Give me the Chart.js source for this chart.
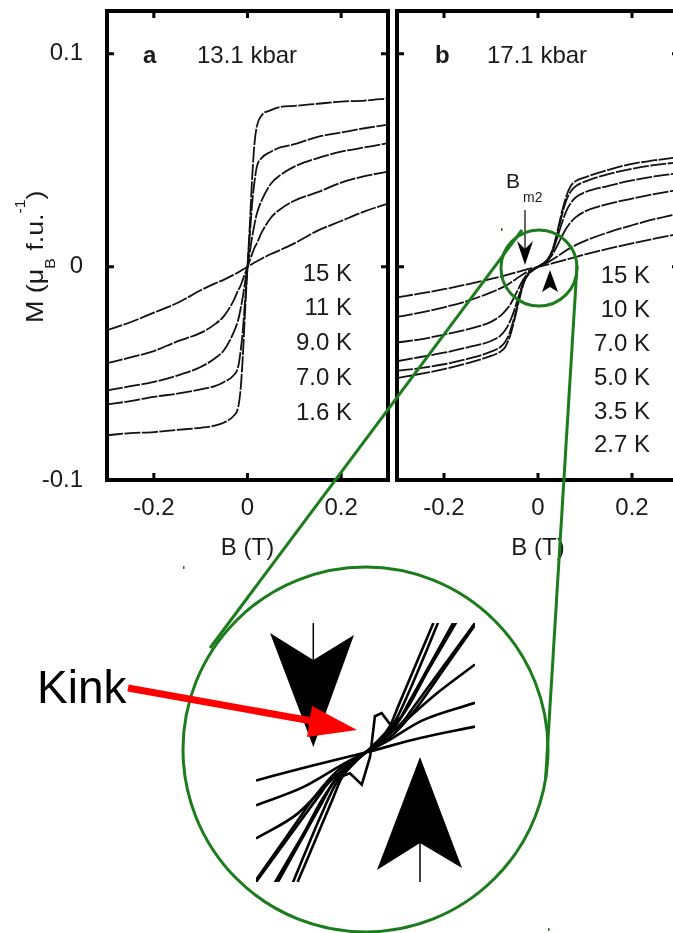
<!DOCTYPE html>
<html>
<head>
<meta charset="utf-8">
<script src="https://cdn.jsdelivr.net/npm/chart.js@4.4.1/dist/chart.umd.min.js"></script>
<style>
  html, body { margin: 0; padding: 0; background: #fff; overflow: hidden; }
  body { width: 673px; height: 933px; position: relative; }
  canvas, svg { position: absolute; }
</style>
</head>
<body>
<canvas id="panelA" width="392" height="560" style="left:0;top:0"></canvas>
<canvas id="panelB" width="298" height="560" style="left:392px;top:0"></canvas>
<canvas id="inset" width="219" height="259" style="left:256px;top:623px"></canvas>

<svg width="673" height="933" style="left:0;top:0" font-family="'Liberation Sans', Arial, sans-serif">
  <!-- inset arrows -->
  <line x1="313.3" y1="623" x2="313.3" y2="662" stroke="#000" stroke-width="1.5"/>
  <polygon points="270,633 313.3,660 354,635 313.3,747" fill="#000"/>
  <polygon points="420,757 377,870 420,843 462,868" fill="#000"/>
  <line x1="420" y1="843" x2="420" y2="882" stroke="#000" stroke-width="1.5"/>
  <!-- B_m2 marker in panel b -->
  <line x1="525" y1="210" x2="525" y2="250" stroke="#000" stroke-width="1.2"/>
  <polygon points="517,241 525,249 533,241 525,265" fill="#000"/>
  <polygon points="550,270 542,292 550,287 558,292" fill="#000"/>
  <text x="506" y="188" font-size="21" fill="#1a1a1a">B</text>
  <text x="523" y="202" font-size="14" fill="#1a1a1a">m2</text>
  <!-- zoom circles and connectors -->
  <g fill="none" stroke="#1c7c1c" stroke-width="3">
    <circle cx="539" cy="268" r="38"/>
    <circle cx="365.5" cy="749.5" r="182.5"/>
    <line x1="522" y1="230" x2="210" y2="648"/>
    <line x1="577" y1="266" x2="545.5" y2="780"/>
  </g>
  <g fill="#1c7c1c">
    <rect x="501" y="228" width="1.5" height="3"/>
    <rect x="183" y="566" width="1.5" height="3"/>
    <rect x="548" y="928" width="1.5" height="3"/>
  </g>
  <!-- kink pointer -->
  <line x1="128" y1="688" x2="312" y2="721" stroke="#f00" stroke-width="7"/>
  <polygon points="357,730 312,706 307,737" fill="#f00"/>
  <text x="37" y="703" font-size="46" fill="#000">Kink</text>
</svg>

<script>
// ── Data ──────────────────────────────────────────────────────────────────
const xTickVals = [-0.2, 0, 0.2];
const yTickVals = [-0.1, 0, 0.1];

// panel a, 13.1 kbar
const fieldA = [-0.3, -0.25, -0.2, -0.15, -0.1, -0.07, -0.05, -0.03, -0.02, -0.015, -0.01, -0.005, 0,
                0.005, 0.01, 0.015, 0.02, 0.03, 0.05, 0.07, 0.1, 0.15, 0.2, 0.25, 0.3];
const tempsA = ['15 K', '11 K', '9.0 K', '7.0 K', '1.6 K'];
const mA_15K = [-0.0297, -0.026, -0.0215, -0.017, -0.011, -0.0079, -0.006, -0.0038, -0.0026, -0.002, -0.0013, -0.0007, 0,
                0.0007, 0.0013, 0.002, 0.0026, 0.0038, 0.006, 0.0079, 0.011, 0.017, 0.0215, 0.026, 0.0297];
const mA_11K = [-0.0452, -0.0425, -0.0395, -0.035, -0.031, -0.027, -0.023, -0.016, -0.011, -0.009, -0.006, -0.003, 0,
                0.003, 0.006, 0.009, 0.011, 0.016, 0.023, 0.027, 0.031, 0.035, 0.0395, 0.0425, 0.0447];
const mA_9K  = [-0.058, -0.056, -0.054, -0.051, -0.047, -0.043, -0.039, -0.031, -0.025, -0.02, -0.014, -0.007, 0,
                0.007, 0.014, 0.02, 0.025, 0.031, 0.039, 0.043, 0.047, 0.051, 0.054, 0.056, 0.058];
const mA_7K  = [-0.0645, -0.063, -0.061, -0.0595, -0.0575, -0.056, -0.054, -0.051, -0.047, -0.04, -0.03, -0.015, 0,
                0.015, 0.03, 0.04, 0.047, 0.051, 0.054, 0.056, 0.0575, 0.061, 0.063, 0.065, 0.0667];
const mA_1_6K = [-0.079, -0.078, -0.0775, -0.0765, -0.0755, -0.0745, -0.073, -0.07, -0.066, -0.058, -0.042, -0.02, 0,
                 0.02, 0.042, 0.058, 0.066, 0.071, 0.0735, 0.075, 0.0755, 0.0765, 0.0775, 0.078, 0.079];

// panel b, 17.1 kbar
const fieldB = [-0.3, -0.25, -0.2, -0.15, -0.1, -0.08, -0.07, -0.06, -0.05, -0.04, -0.03, -0.02, -0.01, 0,
                0.01, 0.02, 0.03, 0.04, 0.05, 0.06, 0.07, 0.08, 0.1, 0.15, 0.2, 0.25, 0.3];
const tempsB = ['15 K', '10 K', '7.0 K', '5.0 K', '3.5 K', '2.7 K'];
const mB_15K = [-0.0143, -0.0125, -0.0105, -0.0082, -0.0057, -0.0046, -0.004, -0.0034, -0.0028, -0.0022, -0.0016, -0.001, -0.0005, 0,
                0.0005, 0.001, 0.0016, 0.0022, 0.0028, 0.0034, 0.004, 0.0046, 0.0058, 0.0085, 0.011, 0.0133, 0.0155];
const mB_10K = [-0.0235, -0.0215, -0.019, -0.016, -0.012, -0.0101, -0.009, -0.0077, -0.0062, -0.0047, -0.0033, -0.002, -0.001, 0,
                0.001, 0.002, 0.0033, 0.0047, 0.0062, 0.0077, 0.009, 0.0102, 0.0122, 0.0162, 0.0195, 0.0225, 0.025];
const mB_7K  = [-0.0355, -0.034, -0.0318, -0.0293, -0.0258, -0.023, -0.0208, -0.018, -0.014, -0.0095, -0.0055, -0.0028, -0.0012, 0,
                0.0012, 0.0028, 0.0055, 0.0095, 0.014, 0.018, 0.021, 0.0232, 0.026, 0.0295, 0.032, 0.0342, 0.0362];
const mB_5K  = [-0.0443, -0.0423, -0.0403, -0.0378, -0.0348, -0.0323, -0.0298, -0.0258, -0.02, -0.013, -0.0065, -0.003, -0.0013, 0,
                0.0013, 0.003, 0.0065, 0.013, 0.02, 0.026, 0.03, 0.0325, 0.035, 0.038, 0.0405, 0.0425, 0.044];
const mB_3_5K = [-0.0488, -0.0475, -0.0457, -0.0432, -0.0398, -0.0376, -0.0353, -0.0308, -0.0233, -0.0145, -0.007, -0.0032, -0.0014, 0,
                 0.0014, 0.0032, 0.007, 0.0145, 0.0235, 0.031, 0.0355, 0.0378, 0.04, 0.0435, 0.046, 0.0478, 0.049];
const mB_2_7K = [-0.0522, -0.0502, -0.048, -0.0452, -0.0418, -0.0398, -0.0377, -0.0328, -0.0248, -0.0155, -0.0075, -0.0034, -0.0015, 0,
                 0.0015, 0.0034, 0.0075, 0.0155, 0.025, 0.033, 0.038, 0.0402, 0.042, 0.0455, 0.0483, 0.05, 0.0515];

// zoomed view around B = 0 (panel b)
const zB_15K = [-0.05, -0.025, 0, 0.025, 0.05];
const zM_15K = [-0.0027, -0.0013, 0, 0.0014, 0.0025];
const zB_10K = [-0.05, -0.028, -0.01, 0, 0.01, 0.026, 0.05];
const zM_10K = [-0.0051, -0.0033, -0.0011, 0, 0.0011, 0.0031, 0.0048];
const zB_7K  = [-0.05, -0.031, -0.015, 0, 0.015, 0.0325, 0.05];
const zM_7K  = [-0.0083, -0.0059, -0.0025, 0, 0.0025, 0.0057, 0.0085];
const zB_5K  = [-0.05, -0.04, -0.03, -0.02, -0.018, -0.01, 0, 0.01, 0.018, 0.02, 0.03, 0.04, 0.05];
const zM_5K  = [-0.0125, -0.0096, -0.0067, -0.0038, -0.0032, -0.0016, 0, 0.0016, 0.0032, 0.0038, 0.0067, 0.0096, 0.0125];
const zB_5Kb = [-0.053, -0.043, -0.033, -0.023, -0.013, 0, 0.013, 0.023, 0.033, 0.043, 0.053];
const zM_5Kb = [-0.0132, -0.0102, -0.0072, -0.0042, -0.0018, 0, 0.0018, 0.0042, 0.0072, 0.0102, 0.0132];
const zB_3_5K = [-0.04, -0.035, -0.03, -0.025, -0.02, -0.015, -0.008, 0, 0.008, 0.015, 0.02, 0.025, 0.03, 0.035, 0.04];
const zM_3_5K = [-0.0125, -0.0106, -0.0087, -0.0068, -0.0049, -0.003, -0.0014, 0, 0.0014, 0.003, 0.0049, 0.0068, 0.0087, 0.0106, 0.0125];
const zB_3_5Kb = [-0.044, -0.036, -0.028, -0.02, -0.012, 0, 0.012, 0.02, 0.028, 0.036, 0.044];
const zM_3_5Kb = [-0.0135, -0.0106, -0.0077, -0.0046, -0.0022, 0, 0.0022, 0.0046, 0.0077, 0.0106, 0.0135];
const zB_2_7K = [-0.031, -0.025, -0.02, -0.015, -0.011, -0.005, 0, 0.005, 0.011, 0.015, 0.02, 0.025, 0.031];
const zM_2_7K = [-0.0125, -0.0095, -0.007, -0.0045, -0.0025, -0.001, 0, 0.001, 0.0025, 0.0045, 0.007, 0.0095, 0.0125];
const zB_2_7Kb = [-0.035, -0.028, -0.021, -0.014, -0.008, 0, 0.008, 0.014, 0.021, 0.028, 0.035];
const zM_2_7Kb = [-0.0135, -0.0099, -0.0064, -0.0032, -0.0014, 0, 0.0014, 0.0032, 0.0064, 0.0099, 0.0135];
const zB_kink = [-0.012, -0.0071, -0.0017, 0.0021, 0.0043, 0.0074, 0.012, 0.016];
const zM_kink = [-0.0024, -0.002, -0.0031, -0.0004, 0.0035, 0.0038, 0.0025, 0.0034];

// ── Setup ─────────────────────────────────────────────────────────────────
const FONT = "'Liberation Sans', Arial, Helvetica, sans-serif";
const INK = '#1a1a1a';
Chart.defaults.font.family = FONT;
Chart.defaults.color = INK;

const pairs = (xs, ys) => xs.map((x, i) => ({ x, y: ys[i] }));
const noPad = s => { s.paddingTop = 0; s.paddingBottom = 0; s.paddingLeft = 0; s.paddingRight = 0; };

// frame, inward ticks and panel texts
function framePlugin(o) {
  return {
    id: 'frame',
    afterDraw(chart) {
      const { ctx, chartArea: a, scales: { x, y } } = chart;
      ctx.save();
      ctx.strokeStyle = '#000';
      ctx.lineWidth = 4;
      ctx.strokeRect(a.left, a.top, a.right - a.left, a.bottom - a.top);
      ctx.lineWidth = 3;
      ctx.beginPath();
      xTickVals.forEach(v => {
        const px = x.getPixelForValue(v);
        ctx.moveTo(px, a.bottom); ctx.lineTo(px, a.bottom - 7);
        ctx.moveTo(px, a.top); ctx.lineTo(px, a.top + 7);
      });
      yTickVals.forEach(v => {
        const py = y.getPixelForValue(v);
        ctx.moveTo(a.left, py); ctx.lineTo(a.left + 7, py);
        ctx.moveTo(a.right, py); ctx.lineTo(a.right - 7, py);
      });
      ctx.stroke();

      ctx.fillStyle = INK;
      ctx.textBaseline = 'alphabetic';
      ctx.textAlign = 'left';
      ctx.font = `bold 24px ${FONT}`;
      ctx.fillText(o.letter, o.letterX, 63);
      ctx.font = `24px ${FONT}`;
      ctx.fillText(o.pressure, o.pressureX, 63);

      ctx.textAlign = 'right';
      ctx.textBaseline = 'middle';
      o.temps.forEach((t, i) => ctx.fillText(t, o.tempX, o.tempY[i]));

      ctx.textAlign = 'center';
      ctx.textBaseline = 'alphabetic';
      ctx.fillText('B (T)', x.getPixelForValue(0), 555);

      if (o.yTitle) {
        ctx.translate(43, 323);
        ctx.rotate(-Math.PI / 2);
        ctx.scale(1.12, 1);
        ctx.textAlign = 'left';
        let cx = 0;
        const put = (s, size, dy) => {
          ctx.font = `${size}px ${FONT}`;
          ctx.fillText(s, cx, dy);
          cx += ctx.measureText(s).width;
        };
        put('M (\u03bc', 24, 0);
        put('B', 14, 12);
        put(' f.u.', 24, 0);
        put('-1', 14, -18);
        put(')', 24, 0);
      }
      ctx.restore();
    }
  };
}

function panelConfig(field, series, o) {
  return {
    type: 'line',
    data: {
      datasets: series.map(s => ({
        data: pairs(field, s),
        borderColor: '#111',
        borderWidth: 1.8,
        borderDash: [16, 1.5],
        pointRadius: 0,
        cubicInterpolationMode: 'monotone',
        fill: false
      }))
    },
    options: {
      responsive: false,
      animation: false,
      events: [],
      layout: { padding: { top: 11, right: o.padRight, left: 0, bottom: 0 } },
      plugins: { legend: { display: false }, tooltip: { enabled: false } },
      scales: {
        x: {
          type: 'linear', min: -0.3, max: 0.3,
          afterBuildTicks: s => { s.ticks = xTickVals.map(v => ({ value: v })); },
          afterFit: s => { s.height = 80; noPad(s); },
          grid: { display: false, drawTicks: false },
          border: { display: false },
          ticks: { padding: 14, maxRotation: 0, font: { size: 24 }, color: INK, callback: v => String(v) }
        },
        y: {
          type: 'linear', min: -0.1, max: 0.12,
          afterBuildTicks: s => { s.ticks = yTickVals.map(v => ({ value: v })); },
          afterFit: s => { s.width = o.yWidth; noPad(s); },
          grid: { display: false, drawTicks: false },
          border: { display: false },
          ticks: { display: o.showY, padding: 24, font: { size: 24 }, color: INK, callback: v => String(v) }
        }
      }
    },
    plugins: [framePlugin(o)]
  };
}

new Chart(document.getElementById('panelA'), panelConfig(
  fieldA, [mA_15K, mA_11K, mA_9K, mA_7K, mA_1_6K],
  {
    padRight: 4, yWidth: 107, showY: true, yTitle: true,
    letter: 'a', letterX: 143, pressure: '13.1 kbar', pressureX: 197,
    temps: tempsA, tempX: 352, tempY: [274, 308, 343, 378, 413]
  }
));

new Chart(document.getElementById('panelB'), panelConfig(
  fieldB, [mB_15K, mB_10K, mB_7K, mB_5K, mB_3_5K, mB_2_7K],
  {
    padRight: 11, yWidth: 5, showY: false, yTitle: false,
    letter: 'b', letterX: 43, pressure: '17.1 kbar', pressureX: 95,
    temps: tempsB, tempX: 258, tempY: [276, 310, 344, 378, 412, 445]
  }
));

// ── Zoomed inset ──────────────────────────────────────────────────────────
const insetCurves = [
  [zB_15K, zM_15K], [zB_10K, zM_10K], [zB_7K, zM_7K],
  [zB_5K, zM_5K], [zB_5Kb, zM_5Kb],
  [zB_3_5K, zM_3_5K], [zB_3_5Kb, zM_3_5Kb],
  [zB_2_7K, zM_2_7K], [zB_2_7Kb, zM_2_7Kb]
];

new Chart(document.getElementById('inset'), {
  type: 'line',
  data: {
    datasets: insetCurves.map(([b, m]) => ({
      data: pairs(b, m),
      borderColor: '#000', borderWidth: 2.6, pointRadius: 0,
      cubicInterpolationMode: 'monotone', fill: false
    })).concat([{
      data: pairs(zB_kink, zM_kink),
      borderColor: '#000', borderWidth: 2.6, pointRadius: 0,
      tension: 0, fill: false
    }])
  },
  options: {
    responsive: false,
    animation: false,
    events: [],
    layout: { padding: 0 },
    plugins: { legend: { display: false }, tooltip: { enabled: false } },
    scales: {
      x: { type: 'linear', min: -0.05, max: 0.05, display: false },
      y: { type: 'linear', min: -0.0125, max: 0.0125, display: false }
    }
  }
});
</script>
</body>
</html>
